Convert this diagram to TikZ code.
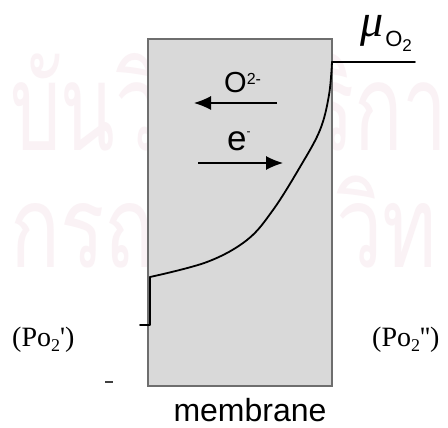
\documentclass[tikz,border=0pt]{standalone}
\usepackage{fontspec}
\setmainfont{Liberation Serif}
\setsansfont{Liberation Sans}
\newfontfamily\thaifont[Script=Thai]{Loma}
\usetikzlibrary{arrows.meta}
\definecolor{wmpink}{RGB}{250,242,245}
\definecolor{boxgray}{RGB}{217,217,217}
\definecolor{edgegray}{RGB}{110,110,110}
\begin{document}
\begin{tikzpicture}[x=1pt,y=-1pt,
  wm/.style={inner sep=0pt},
  membox/.style={draw=edgegray,fill=boxgray,line width=1.3pt,inner sep=0pt,minimum width=184pt,minimum height=347pt},
  profile/.style={line width=1.8pt,line cap=round,line join=round},
  flux/.style={line width=1.2pt,-{Latex[length=17pt,width=14pt]}},
  lab/.style={inner sep=0pt,anchor=base west,font=\sffamily},
  plab/.style={inner sep=0pt,anchor=base west,font=\fontsize{28}{28}\selectfont}]
\useasboundingbox (0,0) rectangle (448,428);
\fill[white] (0,0) rectangle (448,428);
% watermark
\node[wm,anchor=base west] (wm1) at (10,150) {\resizebox{437pt}{97pt}{\color{wmpink}\thaifont บันวิทยบริกา}};
\node[wm,anchor=base west] (wm2) at (10,267) {\resizebox{427pt}{100pt}{\color{wmpink}\thaifont กรณ์มหาวิท}};
% membrane
\node[membox] (mem) at (240,212.5) {};
% chemical potential profile
\coordinate (top) at (332,62);
\coordinate (muend) at (415,62);
\coordinate (low) at (150,277);
\coordinate (stepb) at (150,325);
\coordinate (stepl) at (140,325);
\draw[profile] (muend) -- (top);
\draw[profile] plot[smooth,tension=0.6] coordinates {(332,62) (329,95) (320,130) (300,167) (273,210) (247,240) (207,262) (150,277)};
\draw[profile] (low) -- (stepb) -- (stepl);
% fluxes
\node[lab] (ox) at (224,93) {\fontsize{29}{29}\selectfont O\raisebox{8pt}{\fontsize{16}{16}\selectfont 2-}};
\coordinate (oxa) at (277,103);
\coordinate (oxb) at (194,103);
\draw[flux] (oxa) -- (oxb);
\node[lab] (el) at (227,150) {\fontsize{35}{35}\selectfont e\raisebox{15pt}{\fontsize{12}{12}\selectfont -}};
\coordinate (ela) at (198,163);
\coordinate (elb) at (283,163);
\draw[flux] (ela) -- (elb);
% labels
\node[inner sep=0pt,anchor=base west] (mu) at (360,37) {\fontsize{46}{46}\selectfont\itshape μ\upshape\hspace{2pt}\raisebox{-10pt}{\sffamily\fontsize{22}{22}\selectfont O}\raisebox{-15pt}{\sffamily\fontsize{17}{17}\selectfont 2}};
\node[plab] (pl) at (12,346) {(Po\raisebox{-5pt}{\fontsize{18}{18}\selectfont 2}\textquotesingle)};
\node[plab] (pr) at (372,346) {(Po\raisebox{-5pt}{\fontsize{18}{18}\selectfont 2}\textquotesingle\textquotesingle)};
\node[lab,anchor=base] (memlab) at (250,421) {\fontsize{32}{32}\selectfont membrane};
% small mark
\draw[line width=2.2pt,black!75] (105,382) -- (113,382);
\end{tikzpicture}
\end{document}
